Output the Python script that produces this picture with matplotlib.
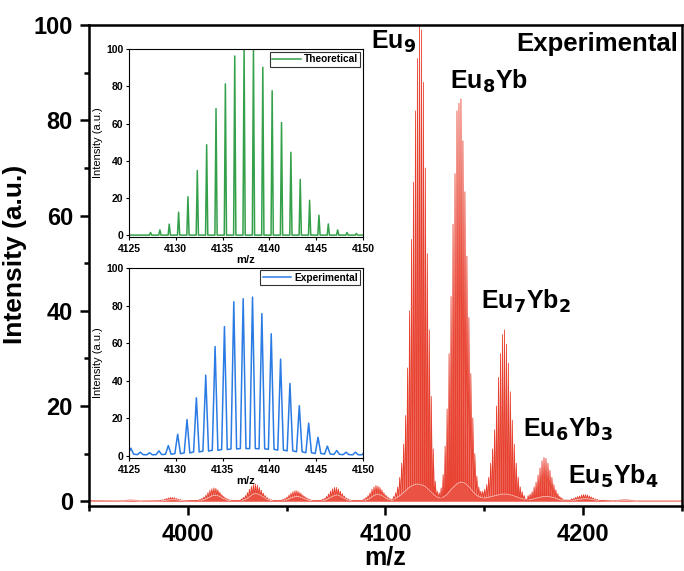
import numpy as np
import matplotlib
matplotlib.use("Agg")
import matplotlib.pyplot as plt
from matplotlib.ticker import MultipleLocator

plt.rcParams['font.family'] = ['Liberation Sans', 'DejaVu Sans']
plt.rcParams['font.weight'] = 'bold'

# ---- experimental spectrum: isotope peaks, one per Da from each start mass ----
exp_offset = 0.2
cluster_starts = [3966, 3986, 4006, 4027, 4048, 4068, 4089, 4104, 4128, 4149, 4172, 4194, 4216]
cluster_peaks = [
    [0.1, 0.15, 0.2, 0.25, 0.3, 0.3, 0.3, 0.25, 0.2, 0.15, 0.1],
    [0.2, 0.3, 0.4, 0.55, 0.7, 0.8, 0.8, 0.75, 0.6, 0.45, 0.35, 0.25, 0.2],
    [0.4, 0.6, 0.9, 1.3, 1.8, 2.3, 2.6, 2.8, 2.7, 2.4, 1.9, 1.4, 1.0, 0.7, 0.5, 0.3],
    [0.5, 0.8, 1.2, 1.8, 2.5, 3.1, 3.5, 3.6, 3.4, 2.9, 2.3, 1.7, 1.2, 0.8, 0.5, 0.3],
    [0.4, 0.6, 0.9, 1.3, 1.7, 2.0, 2.2, 2.2, 2.0, 1.7, 1.3, 1.0, 0.7, 0.5, 0.3],
    [0.4, 0.6, 1.0, 1.5, 2.1, 2.6, 2.9, 2.9, 2.6, 2.1, 1.6, 1.1, 0.7, 0.5, 0.3],
    [0.5, 0.8, 1.2, 1.8, 2.5, 3.0, 3.3, 3.2, 2.9, 2.4, 1.8, 1.3, 0.9, 0.6, 0.4],
    # Eu9
    [1.0, 1.8, 3, 5, 8, 12, 18, 28, 40, 55, 67, 82, 93, 100, 99, 88, 70, 52, 36, 22, 11, 4.2, 2.1, 1.8],
    # Eu8Yb
    [2.8, 5.6, 11.6, 19.4, 31, 43, 58.2, 68.8, 82, 83.6, 84.5, 75.7, 65, 51.5, 38.6, 26.8,
     17.5, 10, 5.3, 3.0, 2.1],
    # Eu7Yb2
    [2.1, 2.5, 3.5, 5, 8, 11, 15, 20, 26, 31, 35, 36, 33, 29, 23, 17, 12, 8, 5, 3, 2, 1.2],
    # Eu6Yb3
    [1.2, 1.5, 2, 3, 4, 5.5, 7, 8.5, 9.2, 9, 8, 6.5, 5, 3.5, 2.4, 1.6, 1.0, 0.7],
    # Eu5Yb4
    [0.5, 0.6, 0.8, 1.0, 1.1, 1.3, 1.4, 1.4, 1.3, 1.1, 0.9, 0.7, 0.5, 0.4],
    [0.15, 0.2, 0.25, 0.3, 0.35, 0.35, 0.35, 0.3, 0.25, 0.2, 0.15, 0.1],
]
cluster_valleys = [
    [0.05, 0.08, 0.1, 0.12, 0.15, 0.15, 0.15, 0.12, 0.1, 0.08, 0.05],
    [0.1, 0.15, 0.2, 0.25, 0.3, 0.35, 0.35, 0.35, 0.3, 0.2, 0.15, 0.12, 0.1],
    [0.2, 0.3, 0.4, 0.6, 0.8, 1.0, 1.2, 1.2, 1.2, 1.1, 0.9, 0.6, 0.5, 0.3, 0.2, 0.15],
    [0.2, 0.35, 0.5, 0.8, 1.1, 1.4, 1.6, 1.6, 1.5, 1.3, 1.0, 0.8, 0.5, 0.35, 0.2, 0.15],
    [0.2, 0.3, 0.4, 0.6, 0.8, 0.9, 1.0, 1.0, 0.9, 0.8, 0.6, 0.45, 0.3, 0.2, 0.15],
    [0.2, 0.3, 0.45, 0.7, 0.9, 1.1, 1.3, 1.3, 1.2, 0.9, 0.7, 0.5, 0.3, 0.2, 0.15],
    [0.2, 0.35, 0.5, 0.8, 1.1, 1.3, 1.5, 1.4, 1.3, 1.1, 0.8, 0.6, 0.4, 0.3, 0.2],
    [0.5, 0.8, 1.0, 1.3, 1.7, 2.0, 2.4, 2.8, 3.1, 3.3, 3.5, 3.6, 3.6, 3.5, 3.4, 3.2, 2.9,
     2.5, 2.1, 1.7, 1.3, 1.0, 0.8, 0.7],
    [0.8, 1.0, 1.3, 1.7, 2.2, 2.7, 3.1, 3.5, 3.8, 4.0, 4.0, 3.9, 3.6, 3.2, 2.8, 2.3, 1.8,
     1.4, 1.1, 0.9, 0.8],
    [0.7, 0.7, 0.8, 0.9, 1.0, 1.1, 1.2, 1.3, 1.4, 1.5, 1.5, 1.5, 1.5, 1.4, 1.3, 1.2, 1.0,
     0.9, 0.7, 0.6, 0.5, 0.4],
    [0.35, 0.4, 0.5, 0.6, 0.7, 0.8, 0.9, 1.0, 1.0, 1.0, 1.0, 0.9, 0.8, 0.7, 0.5, 0.4, 0.3, 0.25],
    [0.2, 0.25, 0.3, 0.4, 0.45, 0.5, 0.55, 0.55, 0.5, 0.45, 0.4, 0.3, 0.25, 0.2],
    [0.05, 0.08, 0.1, 0.12, 0.15, 0.15, 0.15, 0.12, 0.1, 0.08, 0.05, 0.05],
]
baseline_ends = [(3950, 0.1), (4250, 0.05)]

# ---- theoretical isotope pattern (Eu8Yb) ----
theo_offset = 0.3
theo_start = 4127
theo_peaks = [1.4, 2.8, 5.9, 12.3, 20.6, 34.7, 48.6, 68, 81.3, 96.3, 100, 100, 90.2, 77.6,
              60.5, 44.5, 29.9, 18.7, 10.7, 6, 2.8, 1.4, 0.9]

labels = ['Eu$_9$', 'Eu$_8$Yb', 'Eu$_7$Yb$_2$', 'Eu$_6$Yb$_3$', 'Eu$_5$Yb$_4$']
label_xy = [(4092.5, 96.6), (4132.5, 88.3), (4148.5, 42), (4169.5, 15), (4192.5, 5.3)]

red = '#e8402f'
green = '#35a04a'
blue = '#2b7be4'


def build_trace(starts, peaks, valleys, offset, hw, ends=None):
    xs, ys = [], []
    if ends:
        xs.append(ends[0][0]); ys.append(ends[0][1])
    for s, hs, vs in zip(starts, peaks, valleys):
        for i, (h, v) in enumerate(zip(hs, vs)):
            m = s + i + offset
            xs += [m - hw, m, m + hw]
            ys += [v, h, v]
    if ends:
        xs.append(ends[1][0]); ys.append(ends[1][1])
    return np.array(xs), np.array(ys)


def style_axes(ax, lw, length, minor_len, size, xpad, ypad):
    for sp in ax.spines.values():
        sp.set_linewidth(lw)
    ax.tick_params(which='major', direction='out', length=length, width=lw,
                   labelsize=size, top=False, right=False)
    ax.tick_params(which='minor', direction='out', length=minor_len, width=lw,
                   top=False, right=False)
    ax.tick_params(axis='x', pad=xpad)
    ax.tick_params(axis='y', pad=ypad)


fig = plt.figure(figsize=(6.84, 5.71), dpi=100)
ax = fig.add_axes([0.130, 0.1138, 0.867, 0.842])

mx, my = build_trace(cluster_starts, cluster_peaks, cluster_valleys, exp_offset, 0.42,
                     baseline_ends)
ax.fill_between(mx, my, 0, color=red, alpha=0.9, lw=0)
ax.plot(mx, my, color=red, lw=0.6)
# lighter trace along the valleys, as in the original rendering
for s, vs in zip(cluster_starts, cluster_valleys):
    vx = np.arange(len(vs)) + s + exp_offset + 0.5
    ax.plot(vx, vs, color='white', lw=0.6, alpha=0.6)

ax.set_xlim(3950, 4250)
ax.set_ylim(-1, 100)
ax.xaxis.set_major_locator(MultipleLocator(100))
ax.xaxis.set_minor_locator(MultipleLocator(50))
ax.yaxis.set_major_locator(MultipleLocator(20))
ax.yaxis.set_minor_locator(MultipleLocator(10))
style_axes(ax, 1.8, 6.5, 3.5, 17, 6, 5)
xl = ax.set_xlabel('m/z', fontsize=18, fontweight='bold')
xl.set_va('baseline')
ax.xaxis.set_label_coords(0.5, -0.122)
ax.set_ylabel('Intensity (a.u.)', fontsize=19, fontweight='bold')
ax.yaxis.set_label_coords(-0.105, 0.524)

for lab, (x, y) in zip(labels, label_xy):
    ax.text(x, y, lab, fontsize=18, fontweight='bold', va='center', ha='left')
ax.text(4248, 96.1, 'Experimental', fontsize=18.5, fontweight='bold', va='center', ha='right')

# inset: theoretical
ax1 = fig.add_axes([0.1886, 0.585, 0.342, 0.329])
tx, ty = build_trace([theo_start], [theo_peaks], [[0] * len(theo_peaks)], theo_offset, 0.12,
                     [(4125, 0), (4150, 0)])
ax1.plot(tx, ty, color=green, lw=1.1, label='Theoretical')

# inset: experimental (zoom of main spectrum)
ax2 = fig.add_axes([0.1886, 0.1979, 0.342, 0.333])
ex, ey = build_trace(cluster_starts, cluster_peaks, cluster_valleys, exp_offset, 0.3,
                     baseline_ends)
ax2.plot(ex, ey, color=blue, lw=1.1, label='Experimental')

for a in (ax1, ax2):
    a.set_xlim(4125, 4150)
    a.set_ylim(-1, 100)
    a.xaxis.set_major_locator(MultipleLocator(5))
    a.yaxis.set_major_locator(MultipleLocator(20))
    style_axes(a, 0.8, 2.5, 1.5, 7.5, 2.5, 1.5)
    a.set_xlabel('m/z', fontsize=8, fontweight='bold', labelpad=1)
    a.set_ylabel('Intensity (a.u.)', fontsize=8, fontweight='normal', labelpad=2)
    leg = a.legend(loc='upper right', fontsize=7.3, frameon=True, fancybox=False,
                   handlelength=2.8, borderpad=0.25, borderaxespad=0.25, handletextpad=0.3)
    leg.get_frame().set_edgecolor('black')
    leg.get_frame().set_linewidth(0.8)
    for t in leg.get_texts():
        t.set_fontweight('bold')

fig.savefig('out.png', dpi=100)
